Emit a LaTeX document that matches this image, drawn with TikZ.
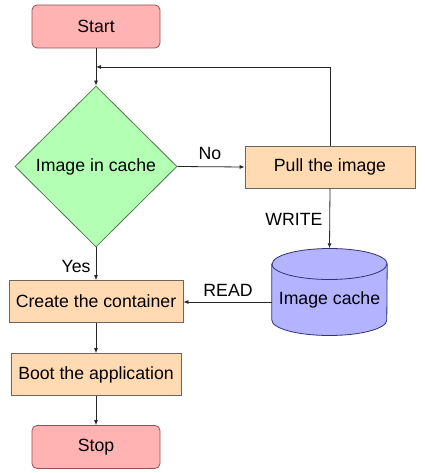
\documentclass[tikz,border=0pt]{standalone}
\usepackage{fontspec}
\setmainfont{Liberation Sans}
\usetikzlibrary{shapes.geometric,arrows.meta}
\definecolor{startfill}{RGB}{255,179,179}
\definecolor{startdraw}{RGB}{150,80,80}
\definecolor{decfill}{RGB}{179,255,179}
\definecolor{decdraw}{RGB}{80,120,80}
\definecolor{procfill}{RGB}{255,218,179}
\definecolor{procdraw}{RGB}{110,100,90}
\definecolor{cachefill}{RGB}{179,179,255}
\definecolor{cachedraw}{RGB}{50,50,110}
\tikzset{
  x=1pt, y=-1pt,
  every node/.style={font=\fontsize{17.7}{20}\selectfont},
  term/.style={draw=startdraw, fill=startfill, rounded corners=5pt, minimum width=128pt, minimum height=43pt, inner sep=0pt, line width=0.8pt},
  proc/.style={draw=procdraw, fill=procfill, minimum height=42pt, inner sep=0pt, line width=0.8pt},
  dec/.style={diamond, draw=decdraw, fill=decfill, minimum width=162pt, minimum height=161pt, inner sep=0pt, line width=0.8pt},
  arr/.style={-{Latex[length=5pt,width=4pt]}, line width=0.8pt, draw=black!85},
  lbl/.style={inner sep=1pt}
}
\begin{document}
\begin{tikzpicture}
\useasboundingbox (0,0) rectangle (424,473);
\node[term] (start) at (96,26.5) {Start};
\node[dec] (dec) at (96,166.5) {Image in cache};
\node[proc, minimum width=170pt] (pull) at (330,167) {Pull the image};
\node[proc, minimum width=174pt] (create) at (96,301.5) {Create the container};
\node[proc, minimum width=170pt] (boot) at (96,374.5) {Boot the application};
\node[term] (stop) at (96,447) {Stop};
% cylinder
\node[minimum width=115pt, minimum height=87pt, inner sep=0pt] (cache) at (329.5,292) {};
\filldraw[fill=cachefill, draw=cachedraw, line width=0.8pt]
  (cache.west |- 0,264) -- (cache.west |- 0,320)
  arc[start angle=180, end angle=360, x radius=57.5pt, y radius=15.5pt]
  -- (cache.east |- 0,264)
  arc[start angle=0, end angle=180, x radius=57.5pt, y radius=15.5pt] -- cycle;
\draw[draw=cachedraw, line width=0.8pt] (cache.west |- 0,264)
  arc[start angle=180, end angle=360, x radius=57.5pt, y radius=15.5pt];
\node at (329.5,300) {Image cache};
\coordinate (j) at (96,67);
\coordinate (cachewest) at (272,302);
\draw[arr] (start) -- (dec);
\draw[arr] (pull.north) |- (j);
\draw[arr] (dec.east) -- (pull.west);
\node[lbl] at (210,153) {No};
\draw[arr] (pull.south) -- (cache.north);
\node[lbl] at (294,219) {WRITE};
\draw[arr] (dec.south) -- (create.north);
\node[lbl] at (76,266) {Yes};
\draw[arr] (cachewest) -- (create.east |- cachewest);
\node[lbl] at (228,290) {READ};
\draw[arr] (create) -- (boot);
\draw[arr] (boot) -- (stop);
\end{tikzpicture}
\end{document}
